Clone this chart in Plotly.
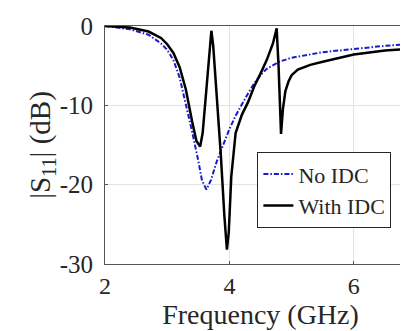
import plotly.graph_objects as go

# No IDC (blue dash-dot)
freq_no = [2.0, 2.4, 2.7, 2.9, 3.0, 3.1, 3.2, 3.3, 3.4, 3.5, 3.56, 3.63, 3.7, 3.8, 3.9,
           4.0, 4.1, 4.2, 4.3, 4.4, 4.5, 4.6, 4.7, 4.8, 5.0, 5.5, 6.0, 6.5, 7.0]
s11_no = [0.0, -0.4, -1.1, -2.2, -3.0, -4.3, -6.5, -9.8, -13.3, -17.0, -19.5, -20.6, -19.5,
          -17.0, -15.0, -13.0, -11.3, -9.8, -8.5, -7.2, -6.2, -5.4, -4.9, -4.5, -4.0, -3.3,
          -2.9, -2.5, -2.2]

# With IDC (black solid)
freq_idc = [2.0, 2.4, 2.7, 2.9, 3.0, 3.1, 3.2, 3.3, 3.4, 3.47, 3.53, 3.57, 3.63, 3.68, 3.71,
            3.74, 3.8, 3.86, 3.92, 3.96, 3.99, 4.03, 4.1, 4.2, 4.3, 4.4, 4.5, 4.6, 4.7, 4.76,
            4.79, 4.83, 4.86, 4.9, 4.95, 5.0, 5.1, 5.3, 5.5, 5.8, 6.0, 6.5, 7.0]
s11_idc = [0.0, -0.2, -0.7, -1.5, -2.3, -3.4, -5.2, -8.0, -12.0, -14.5, -15.2, -13.5, -8.0,
           -3.0, -0.6, -2.5, -9.0, -16.0, -24.0, -28.2, -26.0, -19.0, -13.5, -11.2, -9.6,
           -7.6, -6.0, -4.3, -2.2, -0.3, -5.0, -13.6, -10.5, -8.2, -7.0, -6.2, -5.5, -4.9,
           -4.5, -4.0, -3.6, -3.1, -2.8]

x_ticks = [2, 4, 6]
y_ticks = [0, -10, -20, -30]

FONT = "Times New Roman"

fig = go.Figure()
fig.add_trace(go.Scatter(x=freq_no, y=s11_no, mode="lines", name="No IDC",
                         line=dict(color="#1a1acc", width=2, dash="5px,2px,1.5px,2px")))
fig.add_trace(go.Scatter(x=freq_idc, y=s11_idc, mode="lines", name="With IDC",
                         line=dict(color="black", width=2.5)))

fig.update_layout(
    width=408, height=331,
    margin=dict(l=97, r=0, t=18, b=75),
    paper_bgcolor="white", plot_bgcolor="white",
    font=dict(family=FONT, size=25, color="#262626"),
    showlegend=True,
    legend=dict(x=0.49, y=0.47, xanchor="left", yanchor="top",
                bgcolor="white", bordercolor="#262626", borderwidth=1,
                font=dict(family=FONT, size=22, color="#262626"),
                tracegroupgap=0, itemwidth=30),
    xaxis=dict(range=[2, 7], tickvals=x_ticks, ticktext=[str(v) for v in x_ticks],
               showgrid=True, gridcolor="#e3e3e3", gridwidth=1,
               showline=True, linecolor="#555555", linewidth=1, mirror=True,
               ticks="inside", ticklen=3, tickcolor="#555555", zeroline=False,
               tickfont=dict(size=24),
               title=dict(text="Frequency (GHz)", font=dict(size=28), standoff=0)),
    yaxis=dict(range=[-30, 0], tickvals=y_ticks, ticktext=[str(v) for v in y_ticks],
               showgrid=True, gridcolor="#e3e3e3", gridwidth=1,
               showline=True, linecolor="#555555", linewidth=1, mirror=False,
               ticks="inside", ticklen=3, tickcolor="#555555", zeroline=False,
               tickfont=dict(size=25), ticklabelstandoff=6,
               title=dict(text="|S<sub>11</sub>| (dB)", font=dict(size=29), standoff=0)),
)

fig.write_html("out.html")
